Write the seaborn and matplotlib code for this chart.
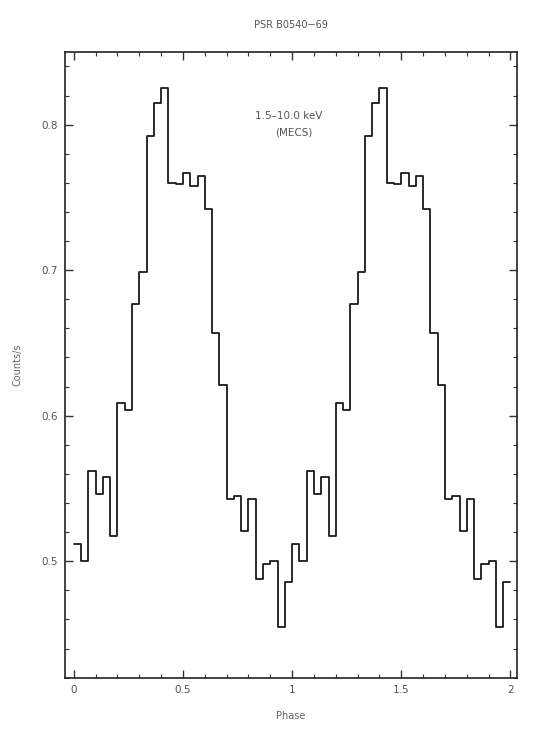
import numpy as np
import pandas as pd
import seaborn as sns
import matplotlib.pyplot as plt
from matplotlib.ticker import MultipleLocator, FixedLocator, FixedFormatter

# Folded light curve, 30 phase bins per cycle
counts = [0.512, 0.500, 0.562, 0.546, 0.558, 0.517, 0.609, 0.604, 0.677, 0.699,
          0.792, 0.815, 0.825, 0.760, 0.759, 0.767, 0.758, 0.765, 0.742, 0.657,
          0.621, 0.543, 0.545, 0.521, 0.543, 0.488, 0.498, 0.500, 0.455, 0.486]
n_cycles = 2
x_ticks = [0, 0.5, 1, 1.5, 2]
x_ticklabels = ["0", "0.5", "1", "1.5", "2"]
y_ticks = [0.5, 0.6, 0.7, 0.8]
y_ticklabels = ["0.5", "0.6", "0.7", "0.8"]

# same profile shown twice, step edges in phase
vals = counts * n_cycles
nbins = len(vals)
phase = np.arange(nbins + 1) / len(counts)
df = pd.DataFrame({"phase": phase, "rate": vals + [vals[-1]]})

sns.set_theme(style="ticks")
plt.rcParams['font.family'] = ['DejaVu Sans']

fig = plt.figure(figsize=(5.38, 7.31), dpi=100)
ax = fig.add_axes([0.121, 0.073, 0.840, 0.856])

sns.lineplot(data=df, x="phase", y="rate", drawstyle="steps-post",
             color="#1a1a1a", linewidth=1.3, ax=ax)

ax.set_xlim(-0.04, 2.03)
ax.set_ylim(0.42, 0.85)

ax.xaxis.set_major_locator(FixedLocator(x_ticks))
ax.xaxis.set_major_formatter(FixedFormatter(x_ticklabels))
ax.xaxis.set_minor_locator(MultipleLocator(0.1))
ax.yaxis.set_major_locator(FixedLocator(y_ticks))
ax.yaxis.set_major_formatter(FixedFormatter(y_ticklabels))
ax.yaxis.set_minor_locator(MultipleLocator(0.02))

ax.tick_params(which="both", direction="in", top=True, right=True,
               colors="#333333", labelcolor="#555555", labelsize=7.5)
ax.tick_params(which="major", length=6, width=1.0, pad=5)
ax.tick_params(which="minor", length=3, width=0.8)
for s in ax.spines.values():
    s.set_color("#222222")
    s.set_linewidth(1.2)

ax.set_xlabel("Phase", fontsize=7, color="#666666", labelpad=12)
ax.set_ylabel("Counts/s", fontsize=7, color="#666666", labelpad=14)

ax.text(0.495, 0.893, "1.5\u201310.0 keV", transform=ax.transAxes,
        ha="center", fontsize=7.5, color="#555555")
ax.text(0.505, 0.866, "(MECS)", transform=ax.transAxes,
        ha="center", fontsize=7.5, color="#555555")
fig.text(0.54, 0.962, "PSR B0540\u221269", ha="center", fontsize=7,
         color="#555555")

fig.savefig("out.png", dpi=100, facecolor="white")
